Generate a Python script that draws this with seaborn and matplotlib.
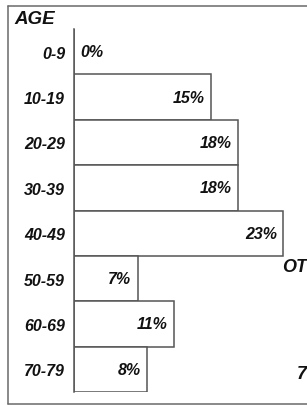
import matplotlib
matplotlib.use("Agg")
import matplotlib.pyplot as plt
from matplotlib import font_manager
from matplotlib.lines import Line2D
import seaborn as sns
import pandas as pd

age_groups = ["0-9", "10-19", "20-29", "30-39", "40-49", "50-59", "60-69", "70-79"]
percents = [0, 15, 18, 18, 23, 7, 11, 8]
pct_labels = ["0%", "15%", "18%", "18%", "23%", "7%", "11%", "8%"]
title_text = "AGE"

sns.set_theme(style="white")
names = {f.name for f in font_manager.fontManager.ttflist}
fam = "Liberation Sans Narrow" if "Liberation Sans Narrow" in names else "Liberation Sans"
plt.rcParams["font.family"] = [fam, "DejaVu Sans"]

W, H = 307, 406
fig = plt.figure(figsize=(W / 100, H / 100), dpi=100)
fig.patch.set_facecolor("white")

def fx(px):
    return px / W

def fy(py):
    return 1 - py / H

ax_left, ax_top, ax_bottom = 74, 30, 393
ax = fig.add_axes([fx(ax_left), fy(ax_bottom), fx(W - ax_left), (ax_bottom - ax_top) / H])

df = pd.DataFrame({"age": age_groups, "pct": percents})
sns.barplot(data=df, y="age", x="pct", orient="h", width=1.0, color="white",
            saturation=1, edgecolor="#555555", linewidth=1.1, ax=ax)

ax.set_xlim(0, (W - ax_left) / 9.1)
ax.set_ylim(len(age_groups) - 0.5, -0.5)
ax.set_xlabel("")
ax.set_ylabel("")
ax.set_xticks([])
for s in ["top", "right", "bottom"]:
    ax.spines[s].set_visible(False)
ax.spines["left"].set_color("#555555")
ax.spines["left"].set_linewidth(1.1)
ax.tick_params(axis="y", length=0, pad=6.5)
for lab in ax.get_yticklabels():
    lab.set_fontsize(11.5)
    lab.set_fontweight("bold")
    lab.set_fontstyle("italic")
    lab.set_color("#111111")
ax.set_facecolor("none")

txt_kw = dict(fontsize=11.5, fontweight="bold", fontstyle="italic", color="#111111", va="center")
for i, (v, lab) in enumerate(zip(percents, pct_labels)):
    if v == 0:
        ax.annotate(lab, (0, i), xytext=(4.5, 0), textcoords="offset points", ha="left", **txt_kw)
    else:
        ax.annotate(lab, (v, i), xytext=(-4.5, 0), textcoords="offset points", ha="right", **txt_kw)

# title
fig.text(fx(14), fy(20), title_text, fontsize=13.5, fontweight="bold", fontstyle="italic",
         color="#111111", ha="left", va="center")

# outer frame
frame_kw = dict(color="#6a6a6a", linewidth=1.1, transform=fig.transFigure)
fig.add_artist(Line2D([fx(8), fx(8)], [fy(7), fy(405)], **frame_kw))
fig.add_artist(Line2D([fx(8), 1], [fy(7), fy(7)], **frame_kw))
fig.add_artist(Line2D([fx(8), 1], [fy(405), fy(405)], **frame_kw))

# cut-off neighbouring text
fig.text(fx(282), fy(268), "OT", fontsize=13, fontweight="bold", fontstyle="italic",
         color="#111111", ha="left", va="center")
fig.text(fx(297), fy(375), "7", fontsize=13, fontweight="bold", fontstyle="italic",
         color="#111111", ha="left", va="center")

fig.savefig("out.png", dpi=100, facecolor="white")
